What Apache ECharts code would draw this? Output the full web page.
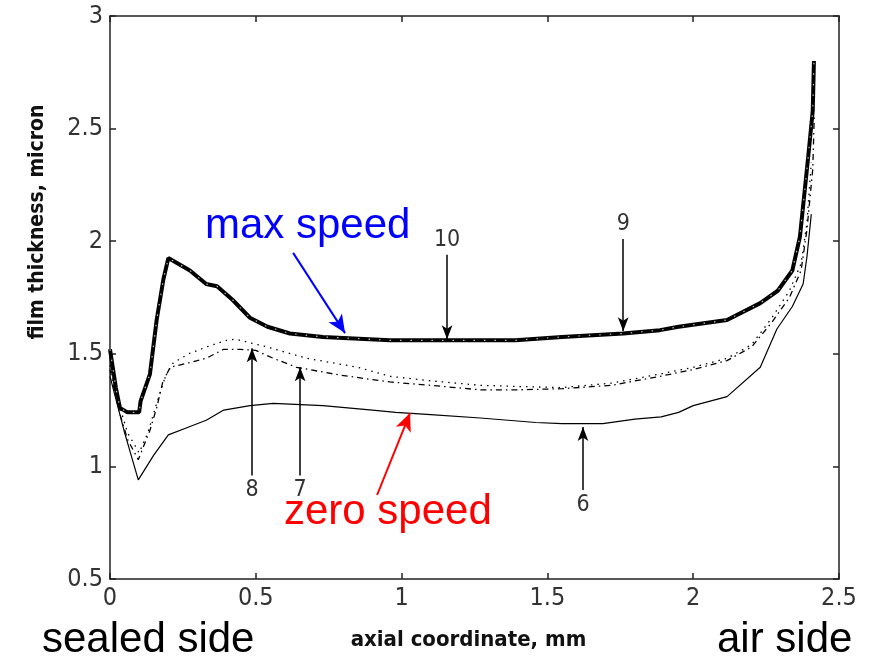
<!DOCTYPE html>
<html>
<head>
<meta charset="utf-8">
<script src="https://cdn.jsdelivr.net/npm/echarts@6/dist/echarts.min.js"></script>
<style>
  html, body { margin: 0; padding: 0; background: #fff; }
  #chart { width: 873px; height: 664px; }
</style>
</head>
<body>
<div id="chart"></div>
<script>
// Axis ticks
const xTicks = [0, 0.5, 1, 1.5, 2, 2.5];
const yTicks = [0.5, 1, 1.5, 2, 2.5, 3];

// Curves 9/10: maximum shaft speed (the two curves coincide)
const xHigh = [0, 0.02, 0.034, 0.06, 0.1, 0.105, 0.137, 0.16, 0.183, 0.2, 0.274, 0.33, 0.367, 0.42, 0.48, 0.54, 0.617, 0.73, 0.96, 1.2, 1.39, 1.55, 1.76, 1.886, 1.95, 2.116, 2.23, 2.29, 2.34, 2.366, 2.394, 2.41, 2.414];
const yHigh = [1.52, 1.35, 1.26, 1.24, 1.24, 1.29, 1.41, 1.65, 1.83, 1.925, 1.87, 1.81, 1.80, 1.74, 1.66, 1.62, 1.59, 1.575, 1.56, 1.56, 1.56, 1.575, 1.59, 1.605, 1.62, 1.65, 1.725, 1.78, 1.87, 2.02, 2.37, 2.58, 2.80];

// Curve 8: dotted
const x8 = [0, 0.03, 0.06, 0.1, 0.13, 0.16, 0.19, 0.217, 0.27, 0.33, 0.4, 0.43, 0.54, 0.675, 0.85, 0.96, 1.1, 1.27, 1.4, 1.55, 1.72, 1.886, 2.0, 2.116, 2.2, 2.27, 2.33, 2.37, 2.39, 2.405];
const y8 = [1.45, 1.28, 1.15, 1.06, 1.15, 1.28, 1.40, 1.46, 1.50, 1.53, 1.56, 1.565, 1.53, 1.48, 1.44, 1.40, 1.38, 1.36, 1.355, 1.35, 1.37, 1.41, 1.44, 1.48, 1.54, 1.66, 1.78, 1.90, 2.08, 2.35];

// Curve 7: dashed
const x7 = [0, 0.03, 0.06, 0.097, 0.137, 0.16, 0.18, 0.206, 0.27, 0.33, 0.39, 0.446, 0.5, 0.56, 0.64, 0.79, 0.96, 1.1, 1.27, 1.4, 1.55, 1.72, 1.886, 2.0, 2.116, 2.2, 2.27, 2.33, 2.37, 2.39, 2.41, 2.415];
const y7 = [1.43, 1.25, 1.12, 1.03, 1.16, 1.26, 1.37, 1.44, 1.46, 1.48, 1.52, 1.52, 1.515, 1.48, 1.44, 1.405, 1.375, 1.36, 1.34, 1.34, 1.345, 1.36, 1.40, 1.43, 1.47, 1.53, 1.64, 1.75, 1.87, 2.05, 2.32, 2.55];

// Curve 6: zero shaft speed
const x6 = [0, 0.02, 0.05, 0.097, 0.15, 0.2, 0.27, 0.33, 0.39, 0.48, 0.56, 0.73, 0.9, 0.98, 1.1, 1.27, 1.46, 1.55, 1.69, 1.8, 1.89, 1.95, 2.0, 2.116, 2.23, 2.287, 2.34, 2.377, 2.39, 2.405];
const y6 = [1.40, 1.30, 1.15, 0.94, 1.05, 1.14, 1.175, 1.205, 1.25, 1.27, 1.28, 1.27, 1.25, 1.24, 1.23, 1.215, 1.195, 1.19, 1.19, 1.21, 1.22, 1.24, 1.27, 1.31, 1.44, 1.61, 1.71, 1.81, 1.93, 2.12];

// Numbered pointers: label, x, start y, tip y
const pointerLabels = ['10', '9', '8', '7', '6'];
const pointerX = [1.156, 1.76, 0.487, 0.652, 1.622];
const pointerFrom = [1.94, 2.01, 0.96, 0.96, 0.895];
const pointerTo = [1.565, 1.60, 1.525, 1.44, 1.175];

const pair = (xs, ys) => xs.map((x, i) => [x, ys[i]]);

const chart = echarts.init(document.getElementById('chart'));

const tickFont = "'Liberation Sans Narrow', 'DejaVu Sans Condensed', 'Liberation Sans', sans-serif";
const titleFont = "'DejaVu Sans Condensed', 'Liberation Sans Narrow', sans-serif";

const pointerLines = pointerLabels.map((lab, i) => [
  { coord: [pointerX[i], pointerFrom[i]], symbol: 'none',
    label: { show: true, position: 'start', formatter: lab, fontFamily: tickFont, fontSize: 23, color: '#333', distance: 3 } },
  { coord: [pointerX[i], pointerTo[i]], symbol: 'arrow', symbolSize: [8, 14] }
]);

const axisLineStyle = { color: '#222', width: 1.5 };

chart.setOption({
  animation: false,
  backgroundColor: '#fff',
  grid: { left: 110, right: 34, top: 16, bottom: 85, show: false },
  xAxis: [{
    type: 'value', min: xTicks[0], max: xTicks[xTicks.length - 1], interval: 0.5,
    axisLine: { show: true, onZero: false, lineStyle: axisLineStyle },
    axisTick: { show: true, inside: true, length: 6, lineStyle: axisLineStyle },
    splitLine: { show: false },
    axisLabel: { color: '#333', fontSize: 25, fontFamily: tickFont, margin: 7 },
    name: 'axial coordinate, mm', nameLocation: 'middle', nameGap: 50,
    nameTextStyle: { fontFamily: titleFont, fontWeight: 'bold', fontSize: 22, color: '#111', padding: [0, 12, 0, 0] }
  }, {
    type: 'value', position: 'top', min: xTicks[0], max: xTicks[xTicks.length - 1], interval: 0.5,
    axisLine: { show: true, onZero: false, lineStyle: axisLineStyle },
    axisTick: { show: true, inside: true, length: 6, lineStyle: axisLineStyle },
    axisLabel: { show: false }, splitLine: { show: false }
  }],
  yAxis: [{
    type: 'value', min: yTicks[0], max: yTicks[yTicks.length - 1], interval: 0.5,
    axisLine: { show: true, onZero: false, lineStyle: axisLineStyle },
    axisTick: { show: true, inside: true, length: 6, lineStyle: axisLineStyle },
    splitLine: { show: false },
    axisLabel: { color: '#333', fontSize: 25, fontFamily: tickFont, margin: 7 }
  }, {
    type: 'value', position: 'right', min: yTicks[0], max: yTicks[yTicks.length - 1], interval: 0.5,
    axisLine: { show: true, onZero: false, lineStyle: axisLineStyle },
    axisTick: { show: true, inside: true, length: 6, lineStyle: axisLineStyle },
    axisLabel: { show: false }, splitLine: { show: false }
  }],
  graphic: [
    { type: 'text', x: 38, y: 222, rotation: Math.PI / 2,
      style: { text: 'film thickness, micron', fill: '#111', font: "bold 21px 'DejaVu Sans Condensed', sans-serif", align: 'center', verticalAlign: 'middle' } },
    { type: 'text', left: 205, top: 205, style: { text: 'max speed', fill: '#0000ff', font: "42px 'Liberation Sans', Arial, sans-serif" } },
    { type: 'text', left: 284, top: 491, style: { text: 'zero speed', fill: '#ff0000', font: "42px 'Liberation Sans', Arial, sans-serif" } },
    { type: 'text', left: 42, top: 619, style: { text: 'sealed side', fill: '#000', font: "42px 'Liberation Sans', Arial, sans-serif" } },
    { type: 'text', left: 717, top: 619, style: { text: 'air side', fill: '#000', font: "42px 'Liberation Sans', Arial, sans-serif" } }
  ],
  series: [
    {
      name: '6', type: 'line', data: pair(x6, y6), showSymbol: false,
      lineStyle: { color: '#000', width: 1.2 },
      markLine: {
        silent: true, symbol: ['none', 'arrow'],
        lineStyle: { color: '#000', width: 1.5, type: 'solid' },
        label: { show: false },
        data: pointerLines.concat([
          [{ coord: [0.628, 1.948], symbol: 'none', lineStyle: { color: '#0000ff', width: 2 } },
           { coord: [0.806, 1.592], symbol: 'arrow', symbolSize: [12, 18] }],
          [{ coord: [0.916, 0.873], symbol: 'none', lineStyle: { color: '#ff0000', width: 2 } },
           { coord: [1.029, 1.237], symbol: 'arrow', symbolSize: [12, 18] }]
        ])
      }
    },
    {
      name: '7', type: 'line', data: pair(x7, y7), showSymbol: false,
      lineStyle: { color: '#000', width: 1.3, type: [6, 4, 1.5, 4] }
    },
    {
      name: '8', type: 'line', data: pair(x8, y8), showSymbol: false,
      lineStyle: { color: '#000', width: 1.3, type: [1.5, 5] }
    },
    {
      name: '9', type: 'line', data: pair(xHigh, yHigh), showSymbol: false,
      lineStyle: { color: '#000', width: 4 }
    },
    {
      name: '10', type: 'line', data: pair(xHigh, yHigh), showSymbol: false,
      lineStyle: { color: '#bbb', width: 1.2, type: [1.5, 9] }
    }
  ]
});
</script>
</body>
</html>
